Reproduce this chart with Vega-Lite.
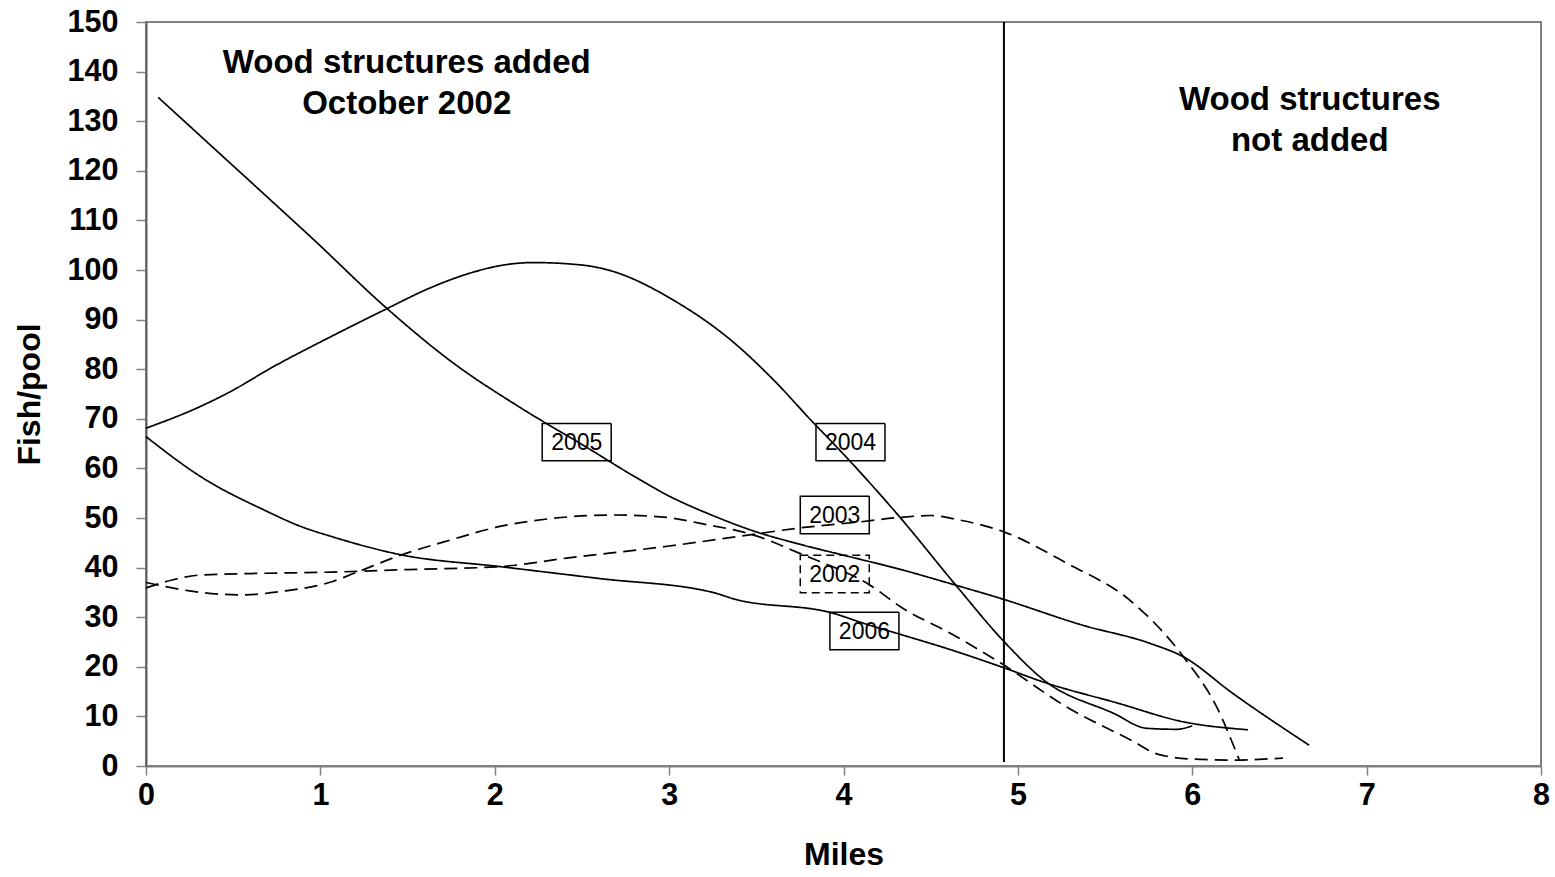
{
  "$schema": "https://vega.github.io/schema/vega-lite/v6.json",
  "width": 1395,
  "height": 744,
  "autosize": {"type": "none"},
  "padding": {"left": 146, "top": 22, "right": 14, "bottom": 111},
  "background": "white",
  "config": {
    "view": {"stroke": "#808080", "strokeWidth": 2},
    "font": "Liberation Sans"
  },
  "datasets": {
    "curves": [
      {"series": "2002", "miles": 0, "fish": 37},
      {"series": "2002", "miles": 0.25, "fish": 35.3},
      {"series": "2002", "miles": 0.54, "fish": 34.5},
      {"series": "2002", "miles": 0.8, "fish": 35.3},
      {"series": "2002", "miles": 1.07, "fish": 37.2},
      {"series": "2002", "miles": 1.19, "fish": 38.8},
      {"series": "2002", "miles": 1.46, "fish": 42.5},
      {"series": "2002", "miles": 1.75, "fish": 45.6},
      {"series": "2002", "miles": 2.03, "fish": 48.3},
      {"series": "2002", "miles": 2.3, "fish": 49.8},
      {"series": "2002", "miles": 2.68, "fish": 50.6},
      {"series": "2002", "miles": 2.99, "fish": 50.1},
      {"series": "2002", "miles": 3.18, "fish": 48.9},
      {"series": "2002", "miles": 3.5, "fish": 46.4},
      {"series": "2002", "miles": 3.76, "fish": 42.7},
      {"series": "2002", "miles": 4.15, "fish": 36.5},
      {"series": "2002", "miles": 4.34, "fish": 31.8},
      {"series": "2002", "miles": 4.61, "fish": 26.8},
      {"series": "2002", "miles": 4.9, "fish": 20.8},
      {"series": "2002", "miles": 5.28, "fish": 11.9},
      {"series": "2002", "miles": 5.66, "fish": 5.0},
      {"series": "2002", "miles": 5.8, "fish": 2.4},
      {"series": "2002", "miles": 6.0, "fish": 1.4},
      {"series": "2002", "miles": 6.23, "fish": 1.2},
      {"series": "2002", "miles": 6.52, "fish": 1.6},

      {"series": "2003", "miles": 0, "fish": 35.9},
      {"series": "2003", "miles": 0.15, "fish": 37.5},
      {"series": "2003", "miles": 0.31, "fish": 38.5},
      {"series": "2003", "miles": 0.6, "fish": 38.8},
      {"series": "2003", "miles": 1.07, "fish": 39.1},
      {"series": "2003", "miles": 1.5, "fish": 39.6},
      {"series": "2003", "miles": 2.03, "fish": 40.2},
      {"series": "2003", "miles": 2.41, "fish": 41.9},
      {"series": "2003", "miles": 2.99, "fish": 44.3},
      {"series": "2003", "miles": 3.5, "fish": 46.8},
      {"series": "2003", "miles": 3.75, "fish": 48},
      {"series": "2003", "miles": 4.09, "fish": 49.2},
      {"series": "2003", "miles": 4.32, "fish": 50.1},
      {"series": "2003", "miles": 4.5, "fish": 50.5},
      {"series": "2003", "miles": 4.65, "fish": 49.7},
      {"series": "2003", "miles": 4.92, "fish": 47.2},
      {"series": "2003", "miles": 5.28, "fish": 40.9},
      {"series": "2003", "miles": 5.66, "fish": 32.9},
      {"series": "2003", "miles": 5.95, "fish": 22},
      {"series": "2003", "miles": 6.14, "fish": 11.9},
      {"series": "2003", "miles": 6.27, "fish": 1.2},

      {"series": "2004", "miles": 0, "fish": 68.1},
      {"series": "2004", "miles": 0.3, "fish": 72.3},
      {"series": "2004", "miles": 0.48, "fish": 75.4},
      {"series": "2004", "miles": 0.73, "fish": 80.5},
      {"series": "2004", "miles": 1.04, "fish": 86.2},
      {"series": "2004", "miles": 1.37, "fish": 92.0},
      {"series": "2004", "miles": 1.63, "fish": 96.4},
      {"series": "2004", "miles": 1.88, "fish": 99.6},
      {"series": "2004", "miles": 2.05, "fish": 101.0},
      {"series": "2004", "miles": 2.22, "fish": 101.5},
      {"series": "2004", "miles": 2.5, "fish": 101.0},
      {"series": "2004", "miles": 2.65, "fish": 100},
      {"series": "2004", "miles": 3.04, "fish": 93.6},
      {"series": "2004", "miles": 3.37, "fish": 85.4},
      {"series": "2004", "miles": 3.6, "fish": 77.8},
      {"series": "2004", "miles": 3.83, "fish": 69.1},
      {"series": "2004", "miles": 3.94, "fish": 65.1},
      {"series": "2004", "miles": 4.32, "fish": 50.3},
      {"series": "2004", "miles": 4.65, "fish": 36.2},
      {"series": "2004", "miles": 4.92, "fish": 25.1},
      {"series": "2004", "miles": 5.15, "fish": 17.3},
      {"series": "2004", "miles": 5.55, "fish": 10.6},
      {"series": "2004", "miles": 5.74, "fish": 7.6},
      {"series": "2004", "miles": 5.91, "fish": 7.4},
      {"series": "2004", "miles": 6.0, "fish": 8.1},

      {"series": "2005", "miles": 0.07, "fish": 134.8},
      {"series": "2005", "miles": 0.4, "fish": 124.2},
      {"series": "2005", "miles": 0.73, "fish": 113.6},
      {"series": "2005", "miles": 0.95, "fish": 106.5},
      {"series": "2005", "miles": 1.38, "fish": 92.3},
      {"series": "2005", "miles": 1.76, "fish": 81.3},
      {"series": "2005", "miles": 2.14, "fish": 72.4},
      {"series": "2005", "miles": 2.52, "fish": 64.4},
      {"series": "2005", "miles": 2.79, "fish": 58.6},
      {"series": "2005", "miles": 2.99, "fish": 54.6},
      {"series": "2005", "miles": 3.25, "fish": 50.5},
      {"series": "2005", "miles": 3.5, "fish": 47.2},
      {"series": "2005", "miles": 3.75, "fish": 44.7},
      {"series": "2005", "miles": 4.0, "fish": 42.5},
      {"series": "2005", "miles": 4.32, "fish": 39.7},
      {"series": "2005", "miles": 4.61, "fish": 36.8},
      {"series": "2005", "miles": 4.9, "fish": 33.8},
      {"series": "2005", "miles": 5.37, "fish": 28.4},
      {"series": "2005", "miles": 5.76, "fish": 24.7},
      {"series": "2005", "miles": 5.95, "fish": 22.0},
      {"series": "2005", "miles": 6.23, "fish": 14.7},
      {"series": "2005", "miles": 6.67, "fish": 4.2},

      {"series": "2006", "miles": 0, "fish": 66.4},
      {"series": "2006", "miles": 0.32, "fish": 58.2},
      {"series": "2006", "miles": 0.69, "fish": 51.4},
      {"series": "2006", "miles": 0.88, "fish": 48.4},
      {"series": "2006", "miles": 1.07, "fish": 46.2},
      {"series": "2006", "miles": 1.46, "fish": 42.6},
      {"series": "2006", "miles": 2.03, "fish": 40.2},
      {"series": "2006", "miles": 2.6, "fish": 37.8},
      {"series": "2006", "miles": 3.25, "fish": 35},
      {"series": "2006", "miles": 3.37, "fish": 33.7},
      {"series": "2006", "miles": 3.94, "fish": 30.8},
      {"series": "2006", "miles": 4.13, "fish": 28.6},
      {"series": "2006", "miles": 4.32, "fish": 26.6},
      {"series": "2006", "miles": 4.61, "fish": 23.5},
      {"series": "2006", "miles": 4.92, "fish": 19.8},
      {"series": "2006", "miles": 5.14, "fish": 17},
      {"series": "2006", "miles": 5.57, "fish": 12.7},
      {"series": "2006", "miles": 5.95, "fish": 8.9},
      {"series": "2006", "miles": 6.32, "fish": 7.3}
    ],
    "labels": [
      {"series": "2005", "miles": 2.47, "fish": 65.3},
      {"series": "2004", "miles": 4.04, "fish": 65.3},
      {"series": "2003", "miles": 3.95, "fish": 50.6},
      {"series": "2002", "miles": 3.95, "fish": 38.7},
      {"series": "2006", "miles": 4.12, "fish": 27.2}
    ],
    "divider": [
      {"miles": 4.92, "from": 0.8, "to": 150}
    ],
    "notes": [
      {"miles": 1.495, "fish": 139.8, "note": "Wood structures added\nOctober 2002"},
      {"miles": 6.674, "fish": 132.3, "note": "Wood structures\nnot added"}
    ]
  },
  "layer": [
    {
      "data": {"name": "curves"},
      "mark": {"type": "line", "interpolate": "monotone", "color": "black", "strokeWidth": 1.7},
      "encoding": {
        "x": {
          "field": "miles", "type": "quantitative",
          "scale": {"domain": [0, 8], "nice": false},
          "axis": {
            "title": "Miles", "values": [0, 1, 2, 3, 4, 5, 6, 7, 8],
            "format": "d", "grid": false, "labelFlush": false, "labelOverlap": false,
            "labelFont": "Liberation Sans", "labelFontSize": 30.5, "labelFontWeight": "bold", "labelColor": "black",
            "titleFont": "Liberation Sans", "titleFontSize": 32, "titleFontWeight": "bold", "titleColor": "black",
            "tickSize": 9, "tickColor": "#808080", "tickWidth": 1.5,
            "domainColor": "#808080", "domainWidth": 2,
            "labelPadding": 5, "titlePadding": 29
          }
        },
        "y": {
          "field": "fish", "type": "quantitative",
          "scale": {"domain": [0, 150], "nice": false},
          "axis": {
            "title": "Fish/pool", "values": [0, 10, 20, 30, 40, 50, 60, 70, 80, 90, 100, 110, 120, 130, 140, 150],
            "format": "d", "grid": false, "labelFlush": false, "labelOverlap": false,
            "labelFont": "Liberation Sans", "labelFontSize": 30.5, "labelFontWeight": "bold", "labelColor": "black",
            "titleFont": "Liberation Sans", "titleFontSize": 32, "titleFontWeight": "bold", "titleColor": "black",
            "tickSize": 10, "tickColor": "#808080", "tickWidth": 1.5,
            "domainColor": "#606060", "domainWidth": 2,
            "labelPadding": 18, "titlePadding": 21
          }
        },
        "detail": {"field": "series", "type": "nominal"},
        "strokeDash": {
          "field": "series", "type": "nominal",
          "scale": {"domain": ["2002", "2003", "2004", "2005", "2006"], "range": [[13, 7], [13, 7], [1, 0], [1, 0], [1, 0]]},
          "legend": null
        }
      }
    },
    {
      "data": {"name": "divider"},
      "mark": {"type": "rule", "color": "black", "strokeWidth": 2},
      "encoding": {
        "x": {"field": "miles", "type": "quantitative"},
        "y": {"field": "from", "type": "quantitative"},
        "y2": {"field": "to"}
      }
    },
    {
      "data": {"name": "labels"},
      "mark": {
        "type": "point", "shape": "M-1,-0.543H1V0.543H-1Z", "size": 4761,
        "filled": false, "stroke": "black", "strokeWidth": 1.5, "opacity": 1
      },
      "encoding": {
        "x": {"field": "miles", "type": "quantitative"},
        "y": {"field": "fish", "type": "quantitative"},
        "strokeDash": {
          "field": "series", "type": "nominal",
          "scale": {"domain": ["2002", "2003", "2004", "2005", "2006"], "range": [[8, 5], [1, 0], [1, 0], [1, 0], [1, 0]]},
          "legend": null
        }
      }
    },
    {
      "data": {"name": "labels"},
      "mark": {"type": "text", "font": "Liberation Sans", "fontSize": 23, "color": "black", "align": "center", "baseline": "middle", "dy": 1},
      "encoding": {
        "x": {"field": "miles", "type": "quantitative"},
        "y": {"field": "fish", "type": "quantitative"},
        "text": {"field": "series", "type": "nominal"}
      }
    },
    {
      "data": {"name": "notes"},
      "mark": {"type": "text", "font": "Liberation Sans", "fontSize": 33, "fontWeight": "bold", "color": "black", "align": "center", "baseline": "alphabetic", "lineBreak": "\n", "lineHeight": 41.6},
      "encoding": {
        "x": {"field": "miles", "type": "quantitative"},
        "y": {"field": "fish", "type": "quantitative"},
        "text": {"field": "note", "type": "nominal"}
      }
    }
  ],
  "resolve": {"scale": {"strokeDash": "independent"}}
}
